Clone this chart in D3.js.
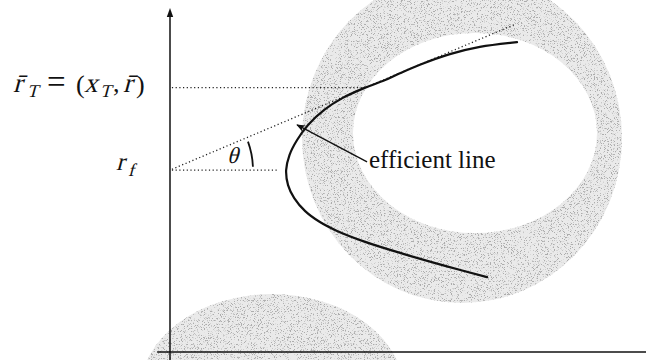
<!DOCTYPE html>
<html>
<head>
<meta charset="utf-8">
<script src="https://cdn.jsdelivr.net/npm/d3@7"></script>
<style>
  html, body { margin: 0; padding: 0; background: #fff; }
  svg { display: block; }
</style>
</head>
<body>
<svg id="chart" width="646" height="360"></svg>
<script>
// Efficient frontier (risk on x, expected return on y), in chart units 0..100
const frontierRisk   = [72.9, 65.1, 58.8, 52.5, 48.3, 45.2, 41.0, 36.3, 32.4, 29.0, 26.7, 25.1, 24.4,
                        24.8, 26.1, 28.4, 31.5, 35.1, 41.0, 49.0, 57.8, 66.6];
const frontierReturn = [90.6, 89.2, 87.1, 84.0, 81.5, 79.5, 77.3, 74.3, 70.8, 66.4, 62.0, 57.6, 53.2,
                        48.8, 45.0, 41.2, 38.0, 35.4, 32.2, 28.7, 25.2, 21.9];

// Risk-free rate and tangency portfolio
const riskFree = 53.2;
const tangency = { risk: 41.0, ret: 77.3 };
const capitalLineEnd = 72.5;          // risk value where the dotted capital line stops
const riskFreeGuideEnd = 22.7;        // risk value where the r_f guide stops

// Annotation arrow: from label to frontier
const arrowFrom = { risk: 41.4, ret: 55.6 };
const arrowTo   = { risk: 26.7, ret: 66.4 };

const SERIF = "'Liberation Serif', 'DejaVu Serif', serif";
const svg = d3.select("#chart");

const x = d3.scaleLinear().domain([0, 100]).range([170, 646]);
const y = d3.scaleLinear().domain([0, 100]).range([352, 10]);

const defs = svg.append("defs");

// stippled halftone texture for the shaded patches
const st = defs.append("filter").attr("id", "stipple")
  .attr("filterUnits", "userSpaceOnUse").attr("x", 0).attr("y", 0).attr("width", 646).attr("height", 360);
st.append("feTurbulence").attr("type", "fractalNoise").attr("baseFrequency", 1.3)
  .attr("numOctaves", 1).attr("seed", 7).attr("result", "noise");
st.append("feColorMatrix").attr("in", "noise").attr("type", "matrix")
  .attr("values", "0 0 0 0 0  0 0 0 0 0  0 0 0 0 0  9 0 0 0 -5.0").attr("result", "dots");
st.append("feFlood").attr("flood-color", "#acacac").attr("result", "ink");
st.append("feComposite").attr("in", "ink").attr("in2", "dots").attr("operator", "in").attr("result", "inkDots");
st.append("feComposite").attr("in", "inkDots").attr("in2", "SourceAlpha").attr("operator", "in").attr("result", "clipped");
const mg = st.append("feMerge");
mg.append("feMergeNode").attr("in", "SourceGraphic");
mg.append("feMergeNode").attr("in", "clipped");

// ---- shaded patches behind the diagram ----
function ellipsePath(cx, cy, rx, ry) {
  return `M${cx + rx},${cy} A${rx},${ry} 0 1,0 ${cx - rx},${cy} A${rx},${ry} 0 1,0 ${cx + rx},${cy} Z`;
}
const shade = svg.append("g").attr("fill", "#eaeaea").attr("filter", "url(#stipple)");
shade.append("path")
  .attr("fill-rule", "evenodd")
  .attr("d", ellipsePath(462, 138, 160, 165) + " " + ellipsePath(475, 133, 122, 100));
shade.append("path")
  .attr("d", ellipsePath(272, 392, 132, 98));

// ---- axes ----
const axes = svg.append("g").attr("stroke", "#111").attr("stroke-width", 1.5);
axes.append("line").attr("x1", x(0)).attr("x2", x(0)).attr("y1", y(-2.4)).attr("y2", y(99.5));
axes.append("line").attr("x1", x(-2.7)).attr("x2", x(100)).attr("y1", y(0)).attr("y2", y(0));
svg.append("path")
  .attr("fill", "#111")
  .attr("d", `M${x(0)},${y(100) - 2} L${x(0) - 3.2},${y(100) + 7} L${x(0) + 3.2},${y(100) + 7} Z`);

// ---- dotted guides ----
const dotted = svg.append("g")
  .attr("stroke", "#222").attr("stroke-width", 1.3)
  .attr("stroke-dasharray", "1.2,2.5").attr("fill", "none");
dotted.append("line")
  .attr("x1", x(0.4)).attr("y1", y(tangency.ret)).attr("x2", x(tangency.risk)).attr("y2", y(tangency.ret));
dotted.append("line")
  .attr("x1", x(0.4)).attr("y1", y(riskFree)).attr("x2", x(riskFreeGuideEnd)).attr("y2", y(riskFree));
const slope = (tangency.ret - riskFree) / tangency.risk;
dotted.append("line")
  .attr("x1", x(0.4)).attr("y1", y(riskFree + slope * 0.4))
  .attr("x2", x(capitalLineEnd)).attr("y2", y(riskFree + slope * capitalLineEnd));

// ---- efficient frontier ----
const pts = frontierRisk.map((r, i) => [r, frontierReturn[i]]);
svg.append("path")
  .datum(pts)
  .attr("fill", "none")
  .attr("stroke", "#111")
  .attr("stroke-width", 2.2)
  .attr("stroke-linecap", "round")
  .attr("d", d3.line().x(d => x(d[0])).y(d => y(d[1])).curve(d3.curveCatmullRom.alpha(0.5)));

// ---- text helper: upright serif, optionally slanted for math italic ----
function put(str, px, py, size, italic) {
  return svg.append("text").attr("font-family", SERIF).attr("fill", "#111")
    .attr("font-size", size)
    .attr("transform", `translate(${px},${py})` + (italic ? " skewX(-15)" : ""))
    .text(str);
}

// ---- angle theta ----
const cx = x(0), cy = y(riskFree);
const ang = Math.atan2(y(riskFree) - y(riskFree + slope * 10), x(10) - x(0));
const arcP = d3.path();
arcP.arc(cx, cy, 83, -ang + 0.05, -0.04);
svg.append("path").attr("d", arcP.toString())
  .attr("fill", "none").attr("stroke", "#111").attr("stroke-width", 1.8);
put("θ", 227, 163, 23, true);

// ---- annotation arrow ----
defs.append("marker").attr("id", "ah").attr("viewBox", "0 0 10 10")
  .attr("refX", 9).attr("refY", 5).attr("markerWidth", 9).attr("markerHeight", 9)
  .attr("markerUnits", "userSpaceOnUse").attr("orient", "auto")
  .append("path").attr("d", "M0,1 L10,5 L0,9 L3,5 Z").attr("fill", "#111");
svg.append("line")
  .attr("x1", x(arrowFrom.risk)).attr("y1", y(arrowFrom.ret))
  .attr("x2", x(arrowTo.risk)).attr("y2", y(arrowTo.ret))
  .attr("stroke", "#111").attr("stroke-width", 1.4)
  .attr("marker-end", "url(#ah)");
put("efficient line", 369, 168, 25, false);

// ---- y-axis labels ----
// r̄_T = (x_T, r̄)
put("r\u0304", 13, 91.5, 27, true);
put("T", 27, 97, 18, true);
put("=", 47, 93, 33, false);
put("(", 76, 93, 26, false);
put("x", 84, 91.5, 27, true);
put("T", 100, 97, 18, true);
put(",", 113, 91.5, 26, false);
put("r\u0304", 123, 91.5, 27, true);
put(")", 136, 93, 26, false);
// r_f
put("r", 116, 170, 25, true);
put("f", 128, 176, 18, true);
</script>
</body>
</html>
